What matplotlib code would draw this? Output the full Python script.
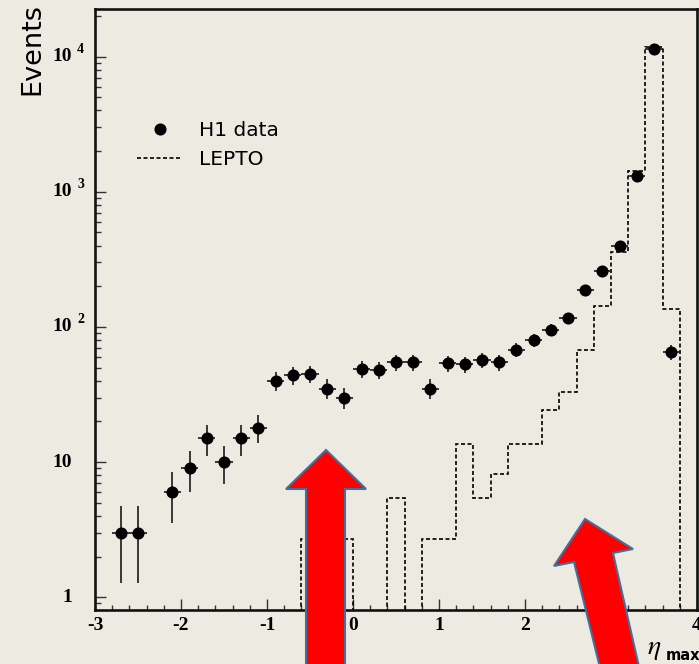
import numpy as np
import matplotlib
matplotlib.use("Agg")
import matplotlib.pyplot as plt
from matplotlib import transforms
from matplotlib.lines import Line2D
from matplotlib.patches import Polygon


FIG_W, FIG_H = 699, 664  # pixels, dpi 100
BG = '#edebe1'

# H1 data: bin centres in eta_max (bins 0.2 wide) and events per bin
eta_data = [-2.7, -2.5, -2.1, -1.9, -1.7, -1.5, -1.3, -1.1, -0.9, -0.7, -0.5,
            -0.3, -0.1, 0.1, 0.3, 0.5, 0.7, 0.9, 1.1, 1.3, 1.5, 1.7, 1.9, 2.1,
            2.3, 2.5, 2.7, 2.9, 3.1, 3.3, 3.5, 3.7]
events_data = [3, 3, 6, 9, 15, 10, 15, 18, 40, 44, 45,
               35, 30, 49, 48, 55, 55, 35, 54, 53, 57, 55, 68, 80,
               95, 116, 188, 261, 394, 1306, 11460, 65]

# LEPTO prediction (dashed histogram)
lepto_edges = [-0.6, -0.4, -0.2, 0.0, 0.2, 0.4, 0.6, 0.8, 1.0, 1.2, 1.4, 1.6,
               1.8, 2.0, 2.2, 2.4, 2.6, 2.8, 3.0, 3.2, 3.4, 3.6, 3.8]
lepto_vals = [2.7, 2.7, 2.7, 0, 0, 5.4, 0, 2.7, 2.7, 13.6, 5.4, 8.2,
              13.6, 13.6, 24.4, 32.8, 68, 143, 361, 1421, 11790, 136]

x_ticks = [-3, -2, -1, 0, 1, 2, 3, 4]
x_tick_labels = ['-3', '-2', '-1', '0', '1', '2', '3', '4']
y_ticks = [1, 10, 100, 1000, 10000]
y_tick_base = ['1', '10', '10', '10', '10']
y_tick_exp = ['', '', '2', '3', '4']

legend_labels = ['H1 data', 'LEPTO']

# red arrows drawn over the figure, in image pixels (x right, y down)
arrow_up = [(326, 450), (366, 489), (345, 489), (345, 680), (306, 680),
            (306, 489), (286, 489)]
arrow_tilt = [(585, 519), (633, 549), (613, 553), (642, 680), (603, 680),
              (574, 562), (554, 566)]

DASH = (0, (2.4, 1.5))


def px(x):
    return x / FIG_W


def py(y):
    return 1 - y / FIG_H


def main():
    plt.rcParams['axes.unicode_minus'] = False
    plt.rcParams['mathtext.fontset'] = 'stix'

    fig = plt.figure(figsize=(FIG_W / 100, FIG_H / 100), dpi=100, facecolor=BG)
    ax = fig.add_axes([px(95), py(610), (697 - 95) / FIG_W, (610 - 9) / FIG_H])
    ax.set_facecolor(BG)

    # pixel transform: image coords -> display
    pix = transforms.Affine2D().scale(1, -1).translate(0, FIG_H) \
        .scale(1 / FIG_W, 1 / FIG_H) + fig.transFigure

    vals = np.array(lepto_vals, dtype=float)
    vals = np.where(vals > 0, vals, 1e-2)
    ax.stairs(vals, lepto_edges, baseline=1e-2, color='black', lw=1.2,
              linestyle=DASH, zorder=2)

    ev = np.array(events_data, dtype=float)
    ax.errorbar(eta_data, ev, xerr=0.1, yerr=np.sqrt(ev), fmt='o', ms=7.7,
                mfc='black', mec='black', ecolor='#1a1a1a', elinewidth=1.2,
                capsize=0, zorder=3)

    ax.set_yscale('log')
    ax.set_xlim(-3, 4)
    ax.set_ylim(0.805, 22500)

    for side in ['left', 'bottom', 'top', 'right']:
        ax.spines[side].set_linewidth(1.9)
        ax.spines[side].set_color('#111111')

    ax.set_xticks(x_ticks)
    ax.set_xticklabels(x_tick_labels, fontfamily='Liberation Serif',
                       fontweight='bold', fontsize=14)
    ax.set_xticks(np.arange(-3, 4.01, 0.2), minor=True)
    ax.tick_params(axis='x', which='major', direction='in', length=8,
                   width=1.0, color='#333333', pad=5, top=False)
    ax.tick_params(axis='x', which='minor', direction='in', length=3.8,
                   width=1.0, color='#333333', top=False)
    ax.tick_params(axis='y', which='major', direction='in', length=8,
                   width=1.0, color='#333333', right=False, labelleft=False)
    ax.tick_params(axis='y', which='minor', direction='in', length=4.3,
                   width=1.0, color='#333333', right=False, labelleft=False)
    ax.set_yticks(y_ticks)
    ax.yaxis.set_minor_locator(matplotlib.ticker.LogLocator(subs=np.arange(2, 10)))
    ax.yaxis.set_minor_formatter(matplotlib.ticker.NullFormatter())

    # y tick labels: "10" aligned on the right, exponent raised beside it
    ytrans = transforms.blended_transform_factory(pix, ax.transData)
    sup_trans = transforms.offset_copy(ytrans, fig=fig, x=0, y=7, units='dots')
    for val, base, exp in zip(y_ticks, y_tick_base, y_tick_exp):
        ax.text(72, val, base, transform=ytrans, ha='right', va='center',
                fontfamily='Liberation Serif', fontweight='bold', fontsize=14,
                clip_on=False)
        if exp:
            ax.text(77, val, exp, transform=sup_trans, ha='left', va='center',
                    fontfamily='Liberation Serif', fontweight='bold',
                    fontsize=10, clip_on=False)

    fig.text(px(32), py(3), 'Events', rotation=90, ha='center', va='top',
             fontfamily='DejaVu Sans', fontsize=19.5)

    fig.text(px(647), py(654), r'$\eta$', ha='left', va='baseline', fontsize=20)
    fig.text(px(666), py(660), 'max', ha='left', va='baseline',
             fontfamily='DejaVu Sans', fontweight='bold', fontsize=10.5)

    handles = [Line2D([], [], marker='o', ls='none', color='black', ms=7.7),
               Line2D([], [], color='black', lw=1.2, linestyle=DASH)]
    fig.legend(handles, legend_labels, loc='upper left',
               bbox_to_anchor=(px(137), py(121)), bbox_transform=fig.transFigure,
               frameon=False, borderpad=0, borderaxespad=0, handlelength=2.25,
               handletextpad=0.85, labelspacing=0.5,
               prop={'family': 'DejaVu Sans', 'size': 14.5})

    for pts in [arrow_up, arrow_tilt]:
        fig.add_artist(Polygon(pts, closed=True, transform=pix, facecolor='#ff0000',
                               edgecolor='#41719c', lw=1.5, zorder=10))

    fig.savefig('out.png', dpi=100, facecolor=BG)


if __name__ == "__main__":
    main()
